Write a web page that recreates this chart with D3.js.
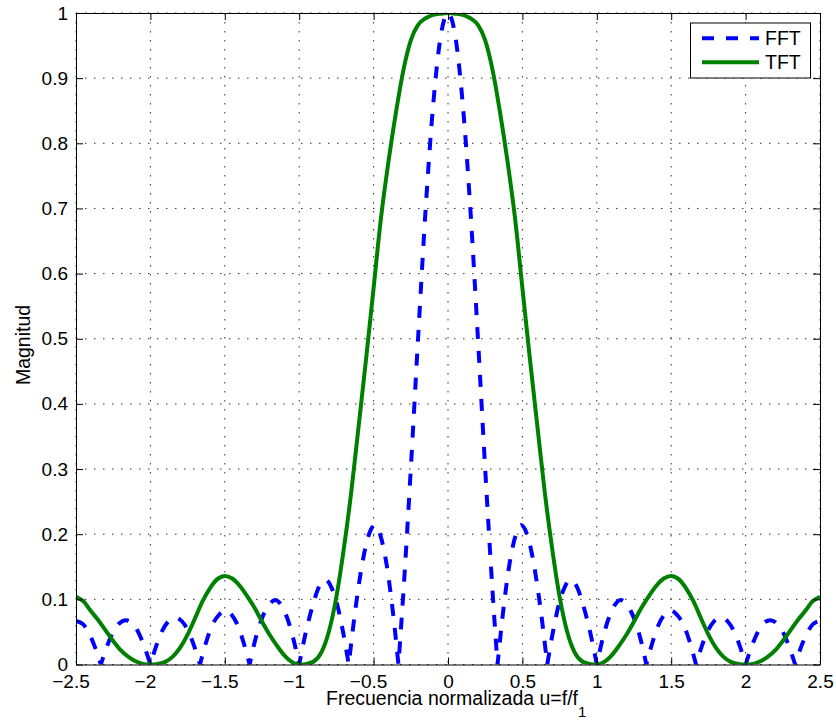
<!DOCTYPE html>
<html>
<head>
<meta charset="utf-8">
<script src="https://cdn.jsdelivr.net/npm/d3@7/dist/d3.min.js"></script>
<style>
  body { margin: 0; background: #fff; }
  svg { display: block; font-family: 'Liberation Sans', Arial, Helvetica, sans-serif; }
  .grid line { stroke: #333; stroke-width: 1; stroke-dasharray: 1.5, 7.5; }
  .axis path, .axis line { stroke: #000; stroke-width: 1; }
  .axis text { font-size: 19px; fill: #000; }
</style>
</head>
<body>
<svg id="chart"></svg>
<script>
// data (u = f/f1)
const fftU = [
  -2.5, -2.453, -2.413, -2.373, -2.333,
  -2.293, -2.253, -2.21, -2.165, -2.12, -2.08, -2.04, -2.0,
  -1.96, -1.92, -1.88, -1.835, -1.787, -1.747, -1.707, -1.667,
  -1.627, -1.585, -1.54, -1.495, -1.453, -1.413, -1.373, -1.333,
  -1.293, -1.25, -1.205, -1.16, -1.12, -1.08, -1.04, -1.0,
  -0.955, -0.91, -0.865, -0.82, -0.787, -0.747, -0.707, -0.667,
  -0.625, -0.58, -0.535, -0.49, -0.453, -0.413, -0.373, -0.333,
  -0.3, -0.25, -0.2, -0.15, -0.1, -0.05, 0, 0.05, 0.1, 0.15, 0.2, 0.25, 0.3, 0.333,
  0.373, 0.413, 0.453, 0.49, 0.535, 0.58, 0.625, 0.667,
  0.707, 0.747, 0.787, 0.82, 0.865, 0.91, 0.955, 1.0,
  1.04, 1.08, 1.12, 1.16, 1.205, 1.25, 1.293, 1.333,
  1.373, 1.413, 1.453, 1.495, 1.54, 1.585, 1.627, 1.667,
  1.707, 1.747, 1.787, 1.835, 1.88, 1.92, 1.96, 2.0,
  2.04, 2.08, 2.12, 2.165, 2.21, 2.253, 2.293, 2.333,
  2.373, 2.413, 2.453, 2.5
];
const fftMag = [
  0.067, 0.062, 0.048, 0.027, 0,
  0.027, 0.049, 0.063, 0.068, 0.063, 0.049, 0.027, 0,
  0.029, 0.052, 0.066, 0.072, 0.066, 0.052, 0.029, 0,
  0.033, 0.060, 0.076, 0.083, 0.076, 0.060, 0.033, 0,
  0.040, 0.071, 0.091, 0.099, 0.091, 0.071, 0.040, 0,
  0.050, 0.090, 0.120, 0.130, 0.120, 0.094, 0.052, 0,
  0.080, 0.150, 0.197, 0.214, 0.197, 0.154, 0.086, 0,
  0.110, 0.300, 0.505, 0.700, 0.858, 0.963, 1, 0.963, 0.858, 0.700, 0.505, 0.300, 0.110, 0,
  0.086, 0.154, 0.197, 0.214, 0.197, 0.150, 0.080, 0,
  0.052, 0.094, 0.120, 0.130, 0.120, 0.090, 0.050, 0,
  0.040, 0.071, 0.091, 0.099, 0.091, 0.071, 0.040, 0,
  0.033, 0.060, 0.076, 0.083, 0.076, 0.060, 0.033, 0,
  0.029, 0.052, 0.066, 0.072, 0.066, 0.052, 0.029, 0,
  0.027, 0.049, 0.063, 0.068, 0.063, 0.049, 0.027, 0,
  0.027, 0.048, 0.062, 0.067
];

const tftU = [
  -2.5, -2.45, -2.4, -2.35, -2.3, -2.25, -2.2, -2.15, -2.1, -2.05,
  -2.0, -1.95, -1.9, -1.85, -1.8, -1.75, -1.7, -1.65, -1.6, -1.55,
  -1.5, -1.45, -1.4, -1.35, -1.3, -1.25, -1.2, -1.15, -1.1, -1.05,
  -1.0, -0.95, -0.9, -0.85, -0.8, -0.75, -0.7, -0.65, -0.6, -0.55,
  -0.5, -0.45, -0.4, -0.35, -0.3, -0.25, -0.2, -0.15, -0.1, -0.05,
  0,
  0.05, 0.1, 0.15, 0.2, 0.25, 0.3, 0.35, 0.4, 0.45, 0.5,
  0.55, 0.6, 0.65, 0.7, 0.75, 0.8, 0.85, 0.9, 0.95, 1.0,
  1.05, 1.1, 1.15, 1.2, 1.25, 1.3, 1.35, 1.4, 1.45, 1.5,
  1.55, 1.6, 1.65, 1.7, 1.75, 1.8, 1.85, 1.9, 1.95, 2.0,
  2.05, 2.1, 2.15, 2.2, 2.25, 2.3, 2.35, 2.4, 2.45, 2.5
];
const tftMag = [
  0.104, 0.097, 0.082, 0.068, 0.052, 0.036, 0.022, 0.012, 0.005, 0.001,
  0, 0.001, 0.004, 0.012, 0.026, 0.046, 0.071, 0.097, 0.117, 0.131,
  0.136, 0.132, 0.121, 0.105, 0.087, 0.066, 0.046, 0.029, 0.014, 0.004,
  0, 0.001, 0.005, 0.019, 0.051, 0.104, 0.178, 0.265, 0.367, 0.470,
  0.578, 0.686, 0.772, 0.847, 0.912, 0.958, 0.982, 0.992, 0.997, 0.999,
  1.0,
  0.999, 0.997, 0.992, 0.982, 0.958, 0.912, 0.847, 0.772, 0.686, 0.578,
  0.470, 0.367, 0.265, 0.178, 0.104, 0.051, 0.019, 0.005, 0.001, 0,
  0.004, 0.014, 0.029, 0.046, 0.066, 0.087, 0.105, 0.121, 0.132, 0.136,
  0.131, 0.117, 0.097, 0.071, 0.046, 0.026, 0.012, 0.004, 0.001, 0,
  0.001, 0.005, 0.012, 0.022, 0.036, 0.052, 0.068, 0.082, 0.097, 0.104
];

const seriesNames = ['FFT', 'TFT'];
const xTicks = [-2.5, -2, -1.5, -1, -0.5, 0, 0.5, 1, 1.5, 2, 2.5];
const xTickLabels = ['\u22122.5', '\u22122', '\u22121.5', '\u22121', '\u22120.5', '0', '0.5', '1', '1.5', '2', '2.5'];
const yTicks = [0, 0.1, 0.2, 0.3, 0.4, 0.5, 0.6, 0.7, 0.8, 0.9, 1];
const yTickLabels = ['0', '0.1', '0.2', '0.3', '0.4', '0.5', '0.6', '0.7', '0.8', '0.9', '1'];

{
  const svg = d3.select('#chart')
    .attr('width', 836)
    .attr('height', 721);

  const margin = {top: 13, right: 16, bottom: 56.5, left: 76},
      width = 836 - margin.left - margin.right,
      height = 721 - margin.top - margin.bottom;

  const g = svg.append('g')
    .attr('transform', 'translate(' + margin.left + ',' + margin.top + ')');

  const x = d3.scaleLinear().domain([-2.5, 2.5]).range([0, width]);
  const y = d3.scaleLinear().domain([0, 1]).range([height, 0]);

  g.append('clipPath').attr('id', 'plot-clip')
    .append('rect').attr('width', width).attr('height', height);

  // dotted grid
  const grid = g.append('g').attr('class', 'grid');
  grid.selectAll('.gx').data(xTicks).enter().append('line')
    .attr('x1', d => x(d)).attr('x2', d => x(d))
    .attr('y1', 0).attr('y2', height);
  grid.selectAll('.gy').data(yTicks).enter().append('line')
    .attr('y1', d => y(d)).attr('y2', d => y(d))
    .attr('x1', 0).attr('x2', width);

  const plot = g.append('g').attr('clip-path', 'url(#plot-clip)');

  // TFT (smooth)
  const tftData = tftU.map((u, i) => [u, tftMag[i]]);
  const line = d3.line()
    .x(d => x(d[0]))
    .y(d => y(d[1]))
    .curve(d3.curveMonotoneX);

  // FFT: split into lobes at the zeros so they stay sharp
  const fftData = fftU.map((u, i) => [u, fftMag[i]]);
  const lobes = [];
  let cur = [];
  fftData.forEach((d) => {
    cur.push(d);
    if (d[1] === 0 && cur.length > 1) {
      lobes.push(cur);
      cur = [d];
    }
  });
  if (cur.length > 1) lobes.push(cur);
  const fftPath = lobes.map((l, i) => {
    const p = line(l);
    return i === 0 ? p : 'L' + p.slice(1);
  }).join('');

  plot.append('path')
    .attr('d', fftPath)
    .attr('fill', 'none')
    .attr('stroke', '#0000ff')
    .attr('stroke-width', 4)
    .attr('stroke-dasharray', '12,12');

  plot.append('path')
    .datum(tftData)
    .attr('d', line)
    .attr('fill', 'none')
    .attr('stroke', '#008000')
    .attr('stroke-width', 4);

  // axes, ticks inside
  const xAxis = d3.axisBottom(x)
    .tickValues(xTicks)
    .tickFormat((d, i) => xTickLabels[i])
    .tickSizeInner(-7).tickSizeOuter(0)
    .tickPadding(10.5);

  const gx = g.append('g')
    .attr('class', 'x axis')
    .attr('transform', 'translate(0,' + height + ')')
    .call(xAxis);
  // minus sign hangs to the left of the centred number
  gx.selectAll('text')
    .attr('x', (d) => d < 0 ? -5.5 : 0);

  g.append('g')
    .attr('class', 'y axis')
    .call(d3.axisLeft(y)
      .tickValues(yTicks)
      .tickFormat((d, i) => yTickLabels[i])
      .tickSizeInner(-7).tickSizeOuter(0)
      .tickPadding(8));

  g.append('g')
    .attr('class', 'axis')
    .call(d3.axisTop(x).tickValues(xTicks).tickFormat('').tickSizeInner(-7).tickSizeOuter(0));

  g.append('g')
    .attr('class', 'axis')
    .attr('transform', 'translate(' + width + ',0)')
    .call(d3.axisRight(y).tickValues(yTicks).tickFormat('').tickSizeInner(-7).tickSizeOuter(0));

  // labels
  const xl = svg.append('text')
    .attr('x', 326)
    .attr('y', 705)
    .attr('font-size', 19.5)
    .text('Frecuencia normalizada u=f/f');
  xl.append('tspan')
    .attr('dy', 12)
    .attr('font-size', 15)
    .text('1');

  svg.append('text')
    .attr('transform', 'translate(29.5,345) rotate(-90)')
    .attr('text-anchor', 'middle')
    .attr('font-size', 19.5)
    .text('Magnitud');

  // legend
  const legend = svg.append('g');
  legend.append('rect')
    .attr('x', 690.5).attr('y', 23)
    .attr('width', 120).attr('height', 55)
    .attr('fill', '#fff')
    .attr('stroke', '#000')
    .attr('stroke-width', 1);

  const legendStyles = [
    {color: '#0000ff', dash: '12,12'},
    {color: '#008000', dash: null}
  ];
  seriesNames.forEach((name, i) => {
    const ly = 38.3 + i * 24;
    legend.append('line')
      .attr('x1', 702).attr('x2', 759)
      .attr('y1', ly).attr('y2', ly)
      .attr('stroke', legendStyles[i].color)
      .attr('stroke-width', 4)
      .attr('stroke-dasharray', legendStyles[i].dash);
    legend.append('text')
      .attr('x', 765)
      .attr('y', ly + 7)
      .attr('font-size', 19.5)
      .text(name);
  });
}
</script>
</body>
</html>
